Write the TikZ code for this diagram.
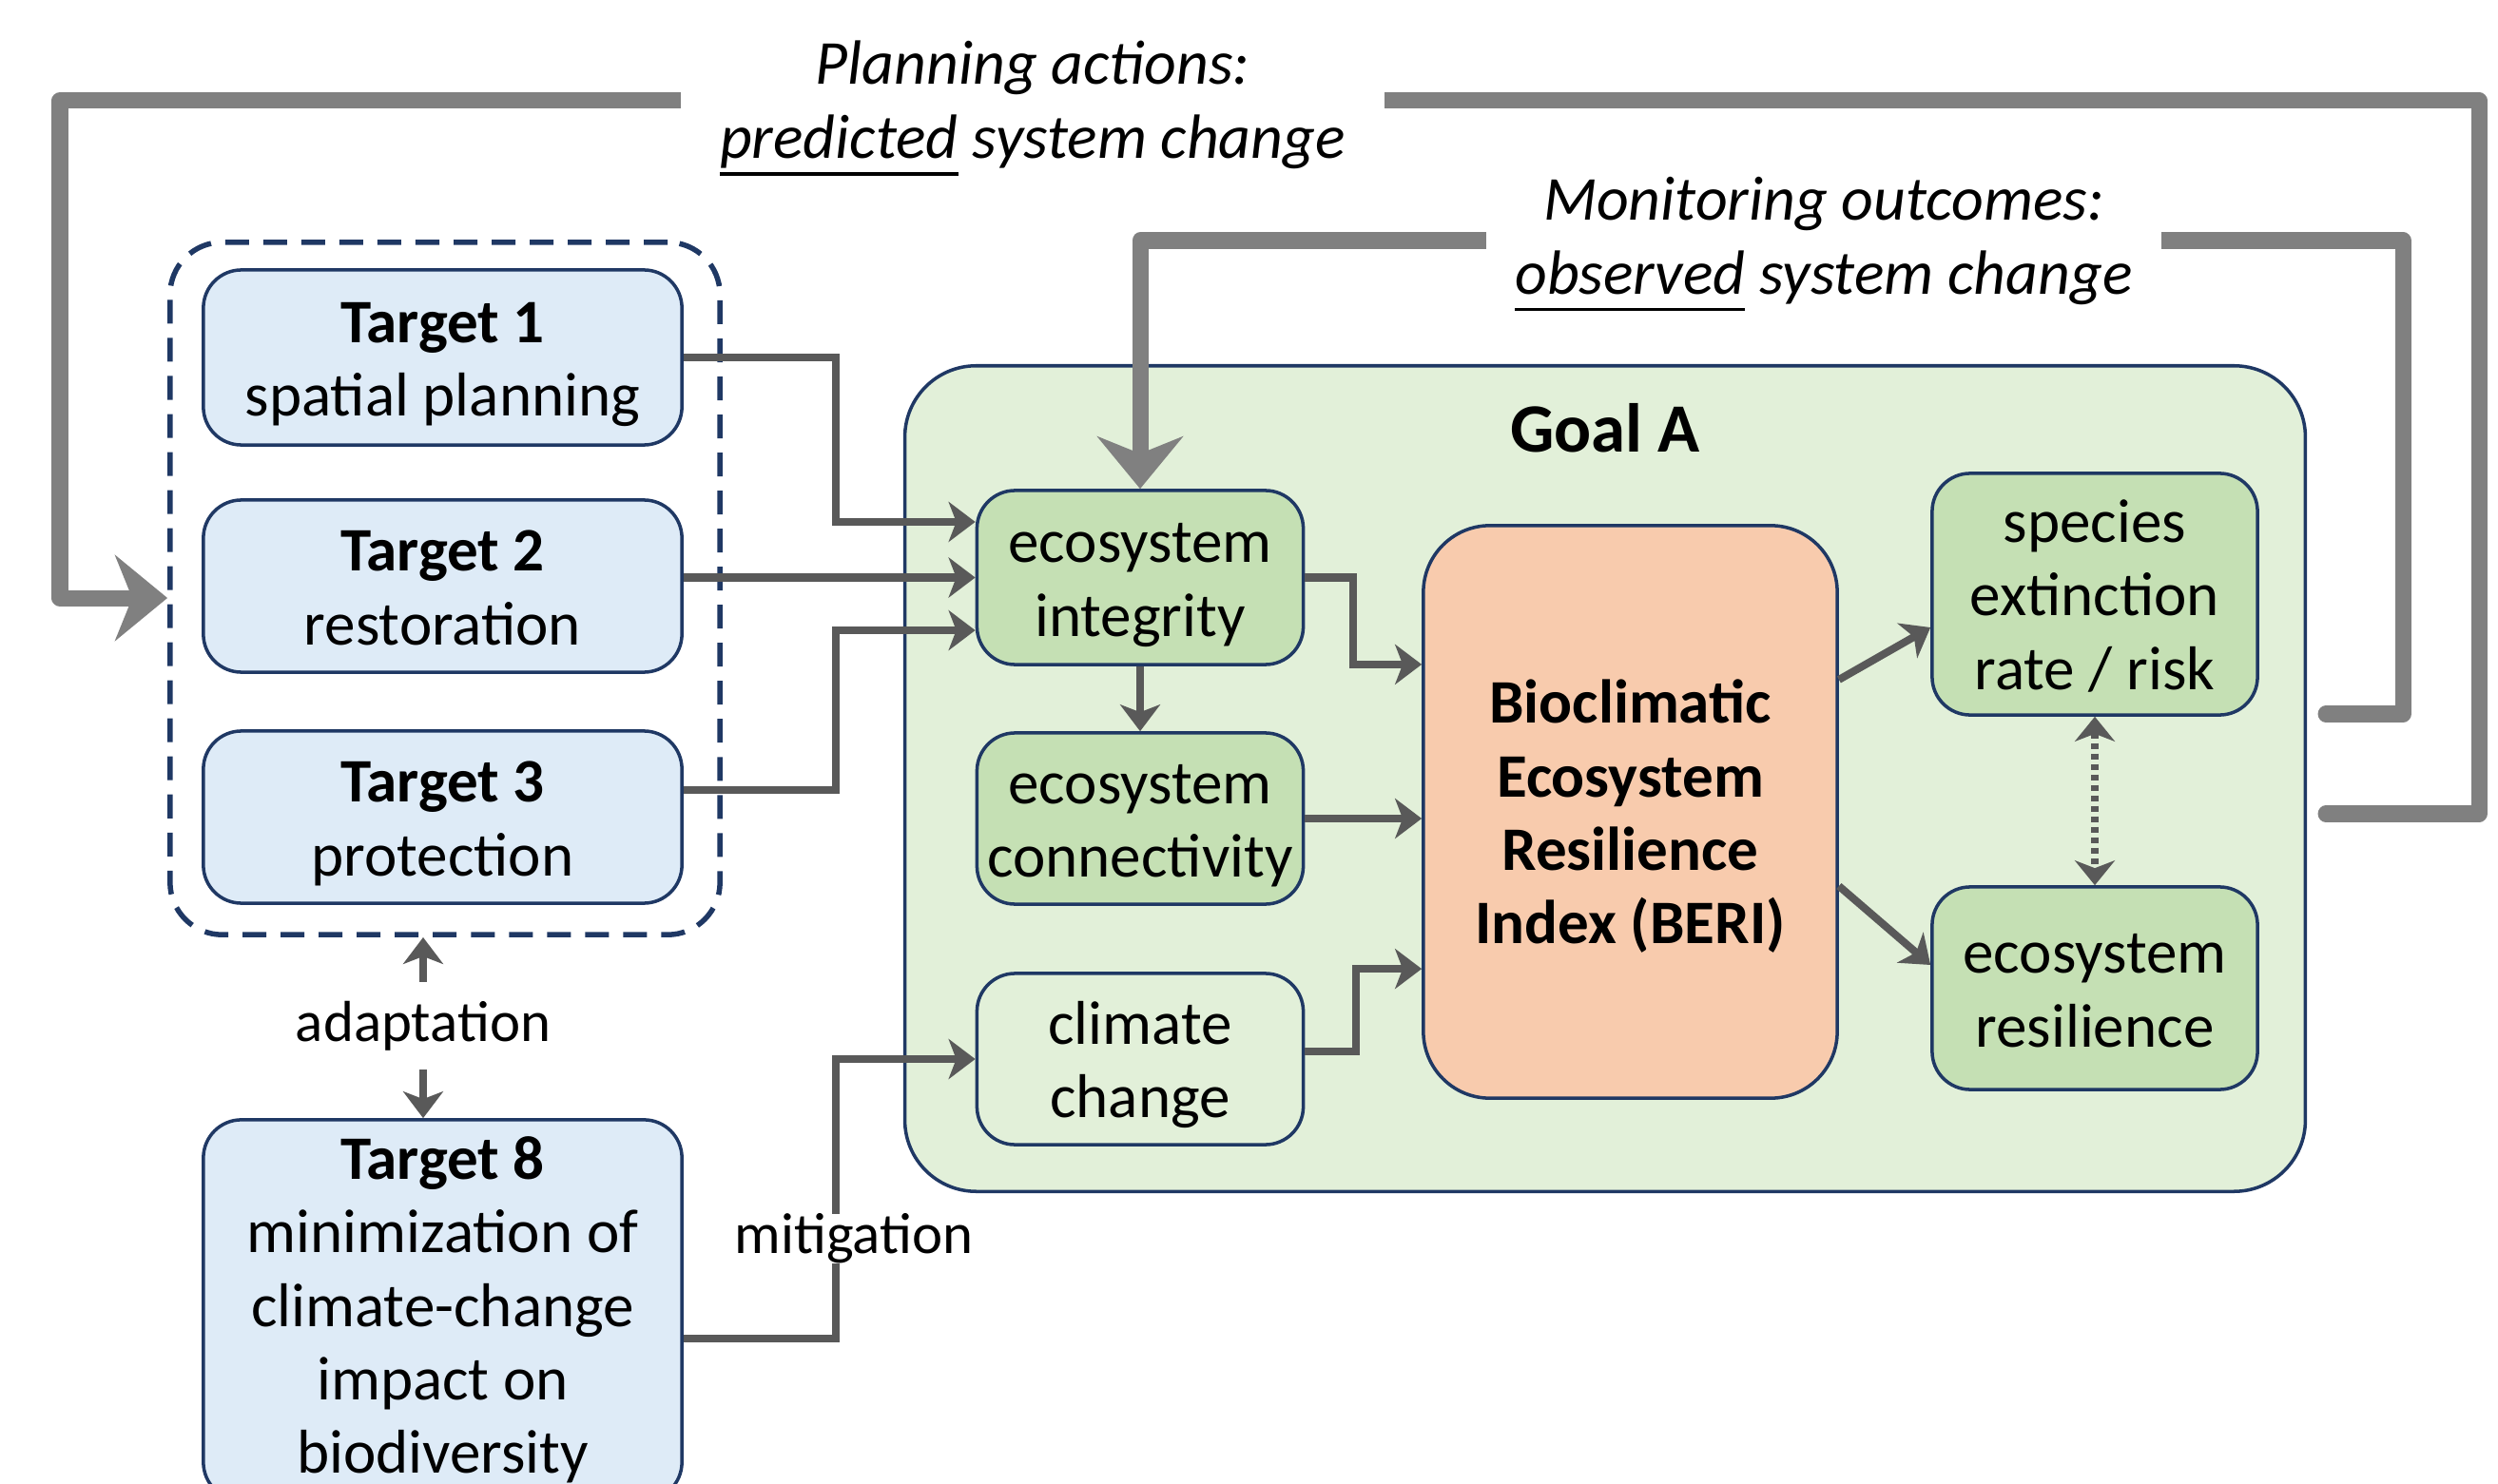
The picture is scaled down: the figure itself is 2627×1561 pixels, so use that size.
\documentclass[tikz,border=0pt]{standalone}
\usepackage{fontspec}
\setmainfont{Carlito}
\usetikzlibrary{arrows.meta,calc}

\definecolor{navy}{HTML}{1F3864}
\definecolor{tblue}{HTML}{DEEBF7}
\definecolor{gfill}{HTML}{C5E0B4}
\definecolor{gbg}{HTML}{E2F0D9}
\definecolor{berifill}{HTML}{F8CBAD}
\definecolor{arrgray}{HTML}{595959}
\definecolor{loopgray}{HTML}{808080}

% struts giving every box the same first-line height and last-line depth
\newcommand\boxtop{\rule{0pt}{17pt}}
\newcommand\boxbot{\rule[-4pt]{0pt}{4pt}}
% underline with a heavier rule
\newcommand\uword[1]{\setbox0\hbox{#1}\rlap{\rule[-5.2pt]{\wd0}{0.9pt}}\box0\relax}

\tikzset{
  txt/.style={font=\fontsize{18.5}{22}\selectfont},
  box/.style={txt, draw=navy, line width=1pt, rounded corners=0.4cm,
    align=center, inner sep=0pt},
  target/.style={box, fill=tblue, minimum width=5.03cm},
  greenbox/.style={box, fill=gfill, minimum width=3.43cm},
  arr/.style={draw=arrgray, line width=0.08cm,
    -{Stealth[length=0.28cm,width=0.42cm,inset=0.08cm]}},
  dotarr/.style={draw=arrgray, line width=0.075cm,
    dash pattern=on 0.06cm off 0.05cm,
    {Stealth[length=0.26cm,width=0.42cm,inset=0.08cm]}-{Stealth[length=0.26cm,width=0.42cm,inset=0.08cm]}},
  loopline/.style={draw=loopgray, line width=0.17cm, line join=round, line cap=round,
    -{Stealth[length=0.55cm,width=0.9cm,inset=0.18cm]}},
  looplabel/.style={fill=white, align=center, inner xsep=0.3cm, inner ysep=0.05cm,
    font=\fontsize{18.7}{22}\selectfont\itshape},
  plainlabel/.style={font=\fontsize{17.3}{21}\selectfont, fill=white,
    inner xsep=0.25cm, inner ysep=0pt}
}

\begin{document}
\begin{tikzpicture}[x=0.01cm, y=-0.01cm]
\useasboundingbox (0,0) rectangle (2627,1561);
\clip (0,0) rectangle (2627,1561);

% Goal A container
\node[draw=navy, fill=gbg, line width=1pt, rounded corners=0.75cm,
      minimum width=14.72cm, minimum height=8.68cm] (goal) at (1688,819) {};
\node[font=\fontsize{20.7}{24}\selectfont\bfseries] (goaltitle) at (1688,450) {Goal A};

% Group of targets 1-3
\node[draw=navy, line width=0.055cm, rounded corners=0.55cm,
      dash pattern=on 0.25cm off 0.15cm,
      minimum width=5.78cm, minimum height=7.28cm] (grp) at (468,619) {};

\node[target, minimum height=1.84cm] (t1) at (465.5,376)
  {\boxtop\textbf{Target 1}\\spatial planning\boxbot};
\node[target, minimum height=1.81cm] (t2) at (465.5,616.5)
  {\boxtop\textbf{Target 2}\\restoration\boxbot};
\node[target, minimum height=1.81cm] (t3) at (465.5,859.5)
  {\boxtop\textbf{Target 3}\\protection\boxbot};
\node[target, minimum height=4.0cm] (t8) at (465.5,1378)
  {\textbf{Target 8}\\minimization of\\climate-change\\impact on\\biodiversity};

% Drivers inside Goal A
\node[greenbox, minimum height=1.83cm] (integ) at (1199,607.5)
  {\boxtop ecosystem\\integrity\boxbot};
\node[greenbox, minimum height=1.8cm] (conn) at (1199,861)
  {\boxtop ecosystem\\connectivity\boxbot};
\node[greenbox, fill=gbg, minimum height=1.8cm] (clim) at (1199,1114)
  {\boxtop climate\\change\boxbot};

\node[box, fill=berifill, rounded corners=0.7cm, minimum width=4.35cm,
      minimum height=6.02cm, font=\fontsize{18.5}{22}\selectfont\bfseries] (beri) at (1714.5,854)
  {\boxtop Bioclimatic\\Ecosystem\\Resilience\\Index (BERI)\boxbot};

\node[greenbox, minimum width=3.42cm, minimum height=2.54cm] (spec) at (2203,625)
  {\boxtop species\\extinction\\rate / risk\boxbot};
\node[greenbox, minimum width=3.42cm, minimum height=2.13cm] (res) at (2203,1039.5)
  {\boxtop ecosystem\\resilience\boxbot};

% Targets feeding ecosystem integrity
\draw[arr] (t1.east) -- ++(160,0) |- ([yshift=0.585cm]integ.west);
\draw[arr] (t2.east |- integ.west) -- (integ.west);
\draw[arr] ([yshift=0.28cm]t3.east) -- ++(160,0) |- ([yshift=-0.555cm]integ.west);

% Drivers into the index
\draw[arr] (integ.south) -- (conn.north);
\draw[arr] (integ.east) -- ++(51,0) |- ([yshift=1.55cm]beri.west);
\draw[arr] (conn.east) -- (conn.east -| beri.west);
\draw[arr] ([yshift=0.08cm]clim.east) -- ++(54,0) |- ([yshift=-1.65cm]beri.west);

% Index to outcomes
\draw[arr] ([yshift=1.39cm]beri.east) -- ([yshift=-0.35cm]spec.west);
\draw[arr] ([yshift=-0.78cm]beri.east) -- ([yshift=0.245cm]res.west);
\draw[dotarr] (spec.south) -- (res.north);

% Target 8 links
\draw[arr] ([yshift=-0.3cm]t8.east) -- ++(160,0) |- (clim.west);
\node[plainlabel] (mitig) at (898,1303) {mitigation};

\node[plainlabel, minimum height=0.91cm] (adapt) at (445,1079) {adaptation};
\draw[arr] (adapt.north) -- (adapt.north |- grp.south);
\draw[arr] (adapt.south) -- (adapt.south |- t8.north);

% Feedback loops
\coordinate (pout) at (2446,856);
\coordinate (mout) at (2446,751);
\draw[loopline] (pout) -- (2607,856) -- (2607,106) -- (63,106) |- ([yshift=-0.1cm]grp.west);
\draw[loopline] (mout) -- (2527,751) -- (2527,253) -| (integ.north);

\node[looplabel, inner xsep=0.41cm] (plan) at (1086,114)
  {Planning actions:\\\uword{predicted} system change};
\node[looplabel] (monit) at (1918,257)
  {Monitoring outcomes:\\\uword{observed} system change};
\end{tikzpicture}
\end{document}
